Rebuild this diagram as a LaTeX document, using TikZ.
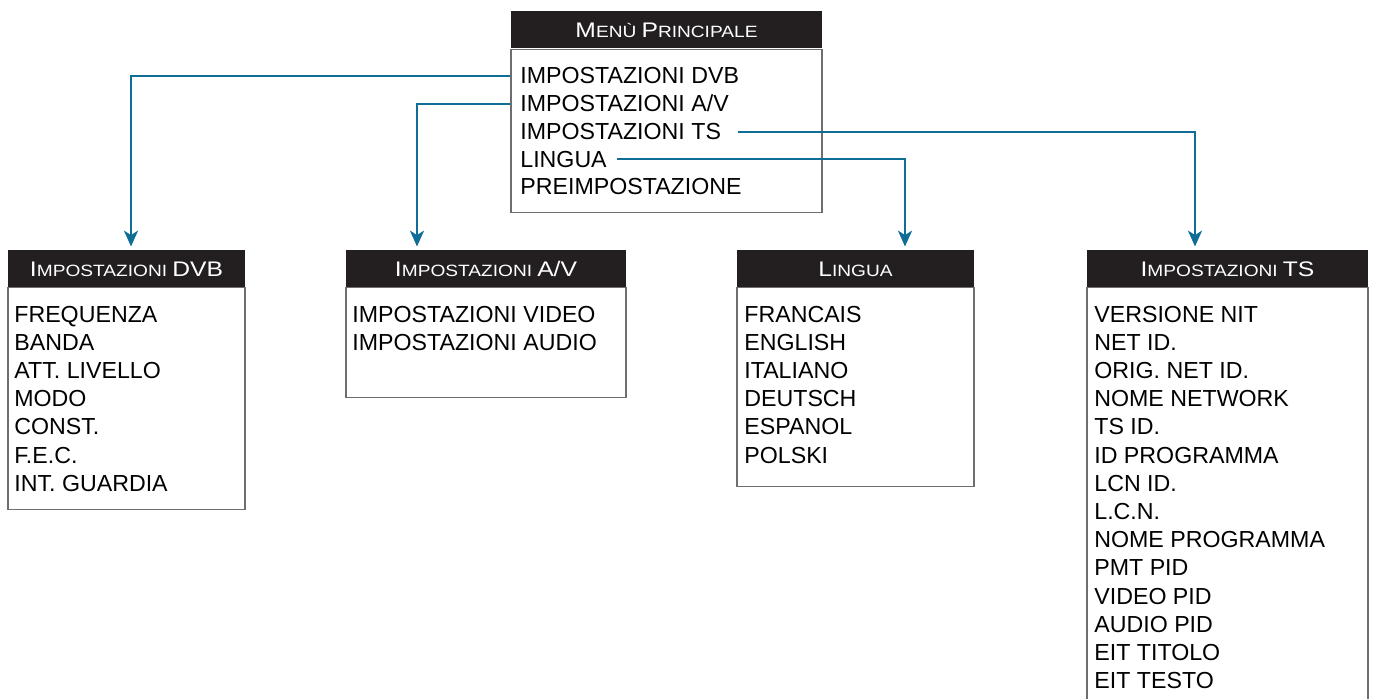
\documentclass[tikz,border=0pt]{standalone}
\usepackage{fontspec}
\setmainfont{Liberation Sans}
\newfontfamily\headfont[FakeStretch=1.17]{Liberation Sans}
\usepackage{tikz}
\definecolor{hblack}{HTML}{231F20}
\definecolor{gframe}{HTML}{6E6E6E}
\definecolor{tblue}{HTML}{106D96}
\newcommand{\hsc}[2]{{\fontsize{12}{14}\selectfont #1}{\fontsize{9.3}{11}\selectfont #2}}
\usetikzlibrary{arrows.meta}
\usetikzlibrary{positioning}

\begin{document}
\begin{tikzpicture}
    \tikzset{head/.style={
      fill=hblack,
      text=white,
      inner sep=0pt,
      minimum height=0.74cm,
      text height=8.6pt,
      text depth=0pt,
      font=\headfont\fontsize{9}{11}\selectfont},
      body/.style={draw=gframe, line width=0.6pt},
      mitem/.style={anchor=base west, inner sep=0pt, text height=9.3pt, text depth=0pt,
        font=\fontsize{13.2}{16}\selectfont},
      entry/.style={anchor=north west, inner sep=0pt, align=left,
        font=\fontsize{13.2}{16.05}\selectfont},
      link/.style={draw=tblue, line width=1.3pt,
        -{Stealth[length=9pt,width=8pt,inset=2.5pt]}, shorten >=2pt}}
    \useasboundingbox (0,0) rectangle (27.46,-13.98);
    \clip (0,0) rectangle (27.46,-13.98);
    \node[head, minimum width=6.22cm] at (13.33,-0.60) (mainhead) {\hsc{M}{ENÙ} \hsc{P}{RINCIPALE}};
    \node[body, minimum width=6.22cm, minimum height=3.26cm, below=0pt of mainhead] (main) {};
    \node[mitem] at (10.40,-1.68) (m1) {IMPOSTAZIONI DVB};
    \node[mitem] at (10.40,-2.24) (m2) {IMPOSTAZIONI A/V};
    \node[mitem] at (10.40,-2.80) (m3) {IMPOSTAZIONI TS};
    \node[mitem] at (10.40,-3.35) (m4) {LINGUA};
    \node[mitem] at (10.40,-3.90) (m5) {PREIMPOSTAZIONE};
    \node[head, minimum width=4.74cm] at (2.53,-5.37) (dvbhead) {\hsc{I}{MPOSTAZIONI} \hsc{DVB}{}};
    \node[body, minimum width=4.74cm, minimum height=4.44cm, below=0pt of dvbhead] (dvb) {};
    \node[entry] at (0.28,-6.11) (dvblist) {FREQUENZA\\BANDA\\ATT. LIVELLO\\MODO\\CONST.\\F.E.C.\\INT. GUARDIA};
    \node[head, minimum width=5.60cm] at (9.72,-5.37) (avhead) {\hsc{I}{MPOSTAZIONI} \hsc{A/V}{}};
    \node[body, minimum width=5.60cm, minimum height=2.20cm, below=0pt of avhead] (av) {};
    \node[entry] at (7.04,-6.11) (avlist) {IMPOSTAZIONI VIDEO\\IMPOSTAZIONI AUDIO};
    \node[head, minimum width=4.74cm] at (17.11,-5.37) (linhead) {\hsc{L}{INGUA}};
    \node[body, minimum width=4.74cm, minimum height=3.98cm, below=0pt of linhead] (lin) {};
    \node[entry] at (14.88,-6.11) (linlist) {FRANCAIS\\ENGLISH\\ITALIANO\\DEUTSCH\\ESPANOL\\POLSKI};
    \node[head, minimum width=5.62cm] at (24.55,-5.37) (tshead) {\hsc{I}{MPOSTAZIONI} \hsc{TS}{}};
    \node[body, minimum width=5.62cm, minimum height=8.80cm, below=0pt of tshead] (ts) {};
    \node[entry] at (21.88,-6.11) (tslist) {VERSIONE NIT\\NET ID.\\ORIG. NET ID.\\NOME NETWORK\\TS ID.\\ID PROGRAMMA\\LCN ID.\\L.C.N.\\NOME PROGRAMMA\\PMT PID\\VIDEO PID\\AUDIO PID\\EIT TITOLO\\EIT TESTO};
    \coordinate (dvbin) at (2.62,-5.00);
    \coordinate (avin) at (8.34,-5.00);
    \coordinate (linin) at (18.10,-5.00);
    \coordinate (tsin) at (23.90,-5.00);
    \draw[link] (main.west |- m1.west) -| (dvbin);
    \draw[link] (main.west |- m2.west) -| (avin);
    \draw[link, shorten <=9.5pt] (m3.east) -| (tsin);
    \draw[link, shorten <=5.5pt] (m4.east) -| (linin);
  \end{tikzpicture}
\end{document}
